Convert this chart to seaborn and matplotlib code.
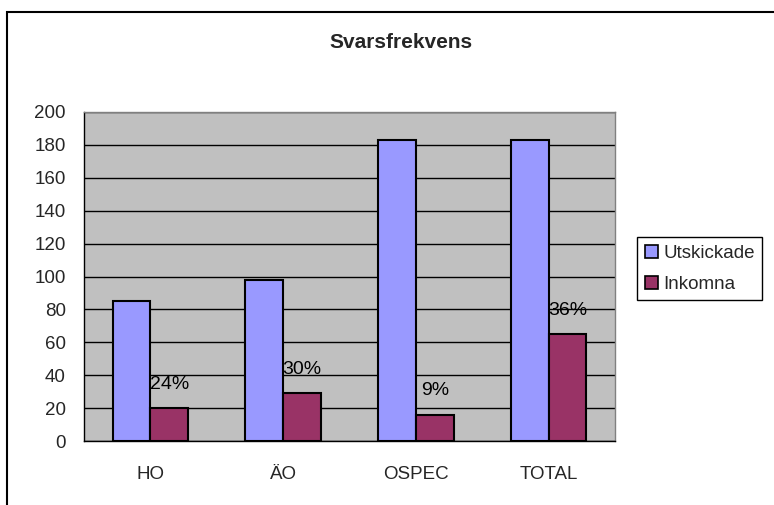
import pandas as pd
import numpy as np
import matplotlib
matplotlib.use('Agg')
import matplotlib.pyplot as plt
import seaborn as sns
from matplotlib.patches import Rectangle

# data
categories = ['HO', 'ÄO', 'OSPEC', 'TOTAL']
utskickade = [85, 98, 183, 183]
inkomna = [20, 29, 16, 65]
series_names = ['Utskickade', 'Inkomna']
y_ticks = [0, 20, 40, 60, 80, 100, 120, 140, 160, 180, 200]

df = pd.DataFrame({
    'Kategori': categories * 2,
    'Serie': [series_names[0]] * len(categories) + [series_names[1]] * len(categories),
    'Antal': utskickade + inkomna,
})

sns.set_theme(style='white')
plt.rcParams['font.family'] = ['Liberation Sans', 'DejaVu Sans']

fig = plt.figure(figsize=(7.74, 5.05), dpi=100)
ax = fig.add_axes([84 / 774, 1 - 441 / 505, (615 - 84) / 774, (441 - 112) / 505])

palette = {'Utskickade': '#9999FF', 'Inkomna': '#993366'}
sns.barplot(data=df, x='Kategori', y='Antal', hue='Serie', palette=palette,
            width=0.57, edgecolor='black', linewidth=1.5, saturation=1,
            ax=ax, zorder=3)

# percentage labels above the "Inkomna" bars
for i, bar in enumerate(ax.containers[1]):
    pct = round(inkomna[i] / utskickade[i] * 100)
    ax.annotate(f'{pct}%', (bar.get_x() + bar.get_width() / 2, bar.get_height()),
                xytext=(0, 11), textcoords='offset points', ha='center', va='bottom',
                fontsize=14, color='black', zorder=2)

ax.set_facecolor('#C0C0C0')
ax.set_ylim(0, 200)
ax.set_xlim(-0.5, len(categories) - 0.5)
ax.set_yticks(y_ticks)
ax.yaxis.grid(True, color='black', linewidth=1)
ax.set_axisbelow(True)

ax.set_xticks(range(len(categories)))
ax.set_xticklabels(categories)
ax.set_xticks(np.arange(-0.5, len(categories), 1), minor=True)
ax.tick_params(axis='x', which='major', length=0, pad=18, labelsize=13.5)
ax.tick_params(axis='x', which='minor', length=5, width=1, color='black', direction='out')
ax.tick_params(axis='y', length=5, width=1, color='black', direction='out', labelsize=13.5, pad=8)
ax.set_xlabel('')
ax.set_ylabel('')

for side in ['top', 'right']:
    ax.spines[side].set_color('#808080')
    ax.spines[side].set_linewidth(1)
for side in ['left', 'bottom']:
    ax.spines[side].set_color('black')
    ax.spines[side].set_linewidth(1)

ax.get_legend().remove()
handles = [Rectangle((0, 0), 1, 1, facecolor=palette[s], edgecolor='black', linewidth=1.2)
           for s in series_names]
leg = fig.legend(handles, series_names, loc='upper left',
                 bbox_to_anchor=(637 / 774, 1 - 237 / 505), fontsize=13.5,
                 frameon=True, fancybox=False, edgecolor='black', framealpha=1,
                 handlelength=0.7, handleheight=0.7, handletextpad=0.3,
                 borderpad=0.4, labelspacing=0.75, borderaxespad=0)
leg.get_frame().set_linewidth(1)

fig.text(401 / 774, 1 - 42 / 505, 'Svarsfrekvens', ha='center', va='center',
         fontsize=15, fontweight='bold')

# outer chart border (runs off the right and bottom edges)
fig.patches.append(Rectangle((7 / 774, -0.2), 1.2, 1.2 - 12 / 505, transform=fig.transFigure,
                             fill=False, edgecolor='black', linewidth=1.5))

plt.savefig('out.png', dpi=100)
